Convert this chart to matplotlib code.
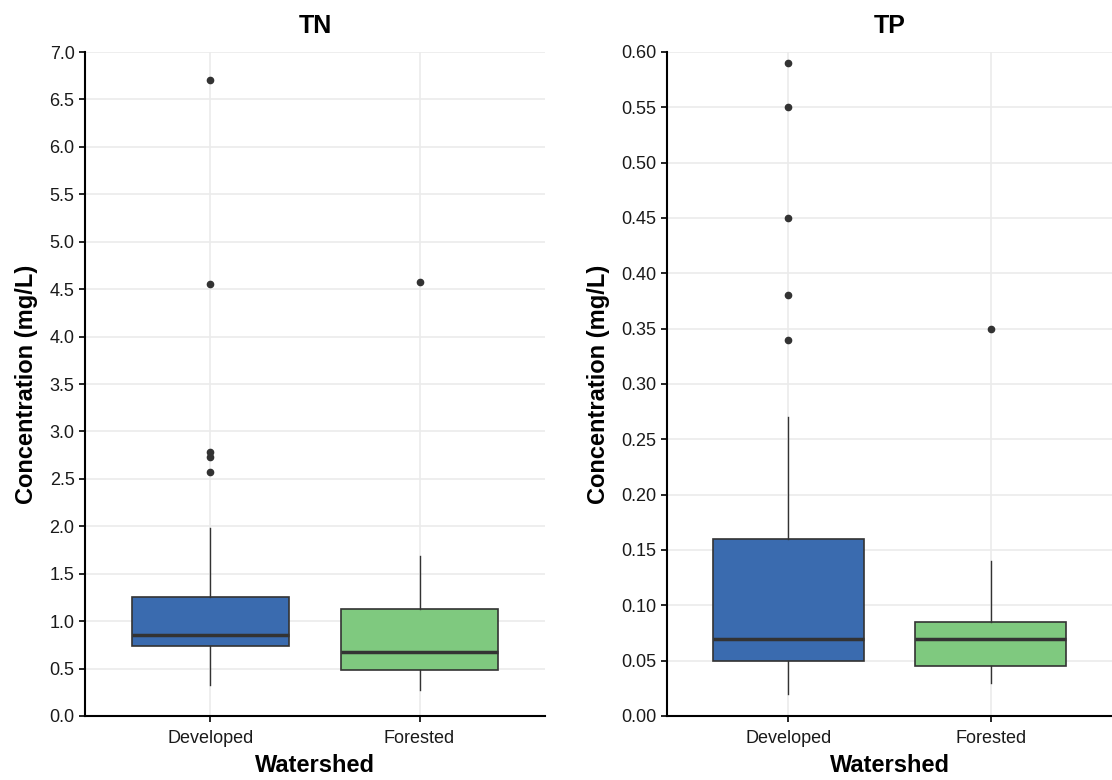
import matplotlib.pyplot as plt
import matplotlib.ticker as ticker
import numpy as np

plt.rcParams['font.family'] = ['Liberation Sans', 'DejaVu Sans']

# Box summary stats
watersheds = ['Developed', 'Forested']
box_colors = ['#3a6baf', '#7fc97f']

tn_whislo = [0.33, 0.27]
tn_q1 = [0.74, 0.48]
tn_med = [0.85, 0.67]
tn_q3 = [1.25, 1.13]
tn_whishi = [1.98, 1.69]
tn_fliers = [[6.71, 4.55, 2.78, 2.73, 2.57], [4.58]]

tp_whislo = [0.02, 0.03]
tp_q1 = [0.05, 0.045]
tp_med = [0.07, 0.07]
tp_q3 = [0.16, 0.085]
tp_whishi = [0.27, 0.14]
tp_fliers = [[0.59, 0.55, 0.45, 0.38, 0.34], [0.35]]


def make_stats(lo, q1, med, q3, hi, fliers):
    stats = []
    for i in range(len(lo)):
        stats.append(dict(whislo=lo[i], q1=q1[i], med=med[i], q3=q3[i],
                          whishi=hi[i], fliers=fliers[i], label=watersheds[i]))
    return stats


def draw_panel(ax, stats, title, ymax, step, fmt):
    bp = ax.bxp(stats, positions=[1, 2], widths=0.75, patch_artist=True,
                showcaps=False,
                boxprops=dict(edgecolor='#333333', linewidth=1.2),
                medianprops=dict(color='#333333', linewidth=2.5),
                whiskerprops=dict(color='#333333', linewidth=1.0),
                flierprops=dict(marker='o', markerfacecolor='#333333',
                                markeredgecolor='#333333', markersize=4.5))
    for patch, c in zip(bp['boxes'], box_colors):
        patch.set_facecolor(c)
    ax.set_xlim(0.4, 2.6)
    ax.set_ylim(0, ymax)
    ax.yaxis.set_major_locator(ticker.MultipleLocator(step))
    ax.yaxis.set_major_formatter(ticker.FormatStrFormatter(fmt))
    ax.grid(True, color='#ebebeb', linewidth=1.2)
    ax.set_axisbelow(True)
    for s in ['top', 'right']:
        ax.spines[s].set_visible(False)
    for s in ['left', 'bottom']:
        ax.spines[s].set_linewidth(1.5)
        ax.spines[s].set_color('black')
    ax.tick_params(axis='both', labelsize=13, length=4, width=1.2,
                   colors='black', labelcolor='#1a1a1a')
    ax.tick_params(axis='x', pad=6)
    ax.set_title(title, fontsize=18, fontweight='bold', pad=14)
    ax.set_xlabel('Watershed', fontsize=17, fontweight='bold', labelpad=5)
    ax.set_ylabel('Concentration (mg/L)', fontsize=17, fontweight='bold',
                  labelpad=8)


fig = plt.figure(figsize=(11.12, 7.8), dpi=100)
ax1 = fig.add_axes([85 / 1112, 64 / 780, 460 / 1112, 664 / 780])
ax2 = fig.add_axes([667 / 1112, 64 / 780, 445 / 1112, 664 / 780])

draw_panel(ax1, make_stats(tn_whislo, tn_q1, tn_med, tn_q3, tn_whishi, tn_fliers),
           'TN', 7.0, 0.5, '%.1f')
draw_panel(ax2, make_stats(tp_whislo, tp_q1, tp_med, tp_q3, tp_whishi, tp_fliers),
           'TP', 0.6, 0.05, '%.2f')

fig.savefig('out.png', dpi=100)
